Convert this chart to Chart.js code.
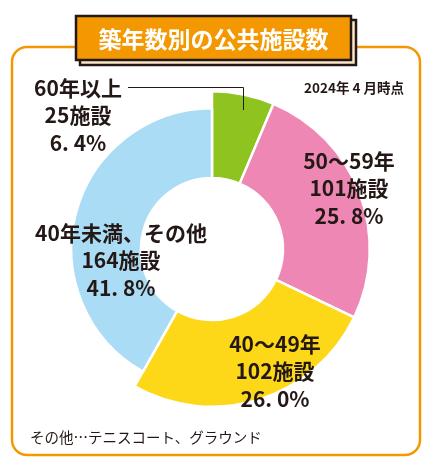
<!DOCTYPE html>
<html lang="ja">
<head>
<meta charset="utf-8">
<script src="https://cdn.jsdelivr.net/npm/chart.js@4.4.1/dist/chart.umd.min.js"></script>
<style>
  html, body { margin: 0; padding: 0; background: #fff; }
  #wrap { width: 431px; height: 465px; }
</style>
</head>
<body>
<div id="wrap"><canvas id="chart" width="431" height="465"></canvas></div>
<script>
// data
const categories = ["60年以上", "50～59年", "40～49年", "40年未満、その他"];
const counts = [25, 101, 102, 164];
const percents = ["6. 4%", "25. 8%", "26. 0%", "41. 8%"];
const colors = ["#8fc31f", "#ee87b4", "#fdd819", "#abdcf5"];

const title = "築年数別の公共施設数";
const dateNote = "2024年 4 月時点";
const footNote = "その他…テニスコート、グラウンド";

const INK = "#231815";
const ORANGE = "#f39800";
const JP = '"Noto Sans CJK JP", "Noto Sans", sans-serif';

// label centres, one per slice (layout only)
const labelPos = [
  { x: 78, y: 88 },
  { x: 349, y: 161 },
  { x: 275, y: 344 },
  { x: 121, y: 233 }
];

const decor = {
  id: "decor",
  beforeDraw(chart) {
    const ctx = chart.ctx;
    ctx.save();
    ctx.strokeStyle = ORANGE;
    ctx.lineWidth = 2.5;
    ctx.beginPath();
    ctx.roundRect(12, 47, 408, 408, 15);
    ctx.stroke();
    ctx.restore();
  },
  afterDatasetsUpdate(chart) {
    // the "40年未満" slice is drawn with a smaller outer radius
    const meta = chart.getDatasetMeta(0);
    const arc = meta.data[3];
    if (arc) arc.outerRadius = arc.outerRadius - 17;
  },
  afterDraw(chart) {
    const ctx = chart.ctx;
    ctx.save();

    // title box
    ctx.lineWidth = 2.5;
    ctx.strokeStyle = INK;
    ctx.fillStyle = "#fde6c6";
    ctx.fillRect(80, 20, 276, 45);
    ctx.strokeRect(80, 20, 276, 45);
    ctx.fillStyle = ORANGE;
    ctx.fillRect(76, 16, 275, 44);
    ctx.strokeRect(76, 16, 275, 44);
    ctx.fillStyle = "#fff";
    ctx.font = "bold 23px " + JP;
    ctx.textAlign = "center";
    ctx.textBaseline = "middle";
    ctx.fillText(title, 213.5, 39);

    // leader line for the small slice
    ctx.strokeStyle = INK;
    ctx.lineWidth = 1;
    ctx.beginPath();
    ctx.moveTo(128, 87.5);
    ctx.lineTo(243.5, 87.5);
    ctx.lineTo(243.5, 110);
    ctx.stroke();

    // slice labels
    ctx.fillStyle = INK;
    ctx.font = "bold 21px " + JP;
    categories.forEach((c, i) => {
      const p = labelPos[i];
      const lines = [c, counts[i] + "施設", percents[i]];
      lines.forEach((t, k) => ctx.fillText(t, p.x, p.y + k * 27.5));
    });

    ctx.font = "bold 13.5px " + JP;
    ctx.fillText(dateNote, 354, 87.5);

    ctx.font = "14.5px " + JP;
    ctx.textAlign = "left";
    ctx.fillText(footNote, 30, 437);
    ctx.restore();
  }
};

new Chart(document.getElementById("chart").getContext("2d"), {
  type: "doughnut",
  data: {
    labels: categories,
    datasets: [
      {
        data: counts,
        backgroundColor: colors,
        borderColor: "#fff",
        borderWidth: 2.5,
        hoverOffset: 0
      }
    ]
  },
  options: {
    responsive: false,
    animation: false,
    cutout: 71,
    layout: { padding: { left: 53, right: 60, top: 90, bottom: 57 } },
    plugins: {
      legend: { display: false },
      tooltip: { enabled: false }
    }
  },
  plugins: [decor]
});
</script>
</body>
</html>
